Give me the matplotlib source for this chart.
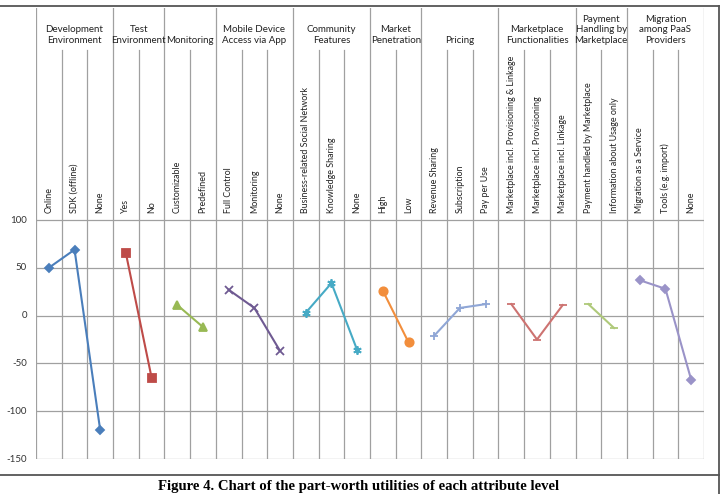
import matplotlib
matplotlib.use("Agg")
import matplotlib.pyplot as plt
from matplotlib.lines import Line2D

# Attribute groups, their levels and the part-worth utilities
groups = ["Development\nEnvironment", "Test\nEnvironment", "Monitoring",
          "Mobile Device\nAccess via App", "Community\nFeatures",
          "Market\nPenetration", "Pricing", "Marketplace\nFunctionalities",
          "Payment\nHandling by\nMarketplace", "Migration\namong PaaS\nProviders"]

levels = [
    ["Online", "SDK (offline)", "None"],
    ["Yes", "No"],
    ["Customizable", "Predefined"],
    ["Full Control", "Monitoring", "None"],
    ["Business-related Social Network", "Knowledge Sharing", "None"],
    ["High", "Low"],
    ["Revenue Sharing", "Subscription", "Pay per Use"],
    ["Marketplace incl. Provisioning & Linkage", "Marketplace incl. Provisioning",
     "Marketplace incl. Linkage"],
    ["Payment handled by Marketplace", "Information about Usage only"],
    ["Migration as a Service", "Tools (e.g. import)", "None"],
]

utilities = [
    [50, 69, -120],
    [65, -65],
    [11, -12],
    [27, 8, -37],
    [3, 34, -36],
    [26, -28],
    [-21, 8, 12],
    [12, -25, 11],
    [12, -13],
    [37, 28, -67],
]

colors = ["#4A7EBB", "#BE4B48", "#98B954", "#6F5A92", "#46AAC5", "#F28E3C",
          "#8FA6D6", "#CD7371", "#AFC97A", "#9A93C8"]
markers = ["D", "s", "^", "x", (6, 2, 0), "o", "+", "_", "_", "D"]
msizes = [4.5, 6, 6, 6, 6, 6, 6, 6, 6, 4]

yticks = [100, 50, 0, -50, -100, -150]

W, H = 726, 494
fig = plt.figure(figsize=(W / 100, H / 100), dpi=100)

# pixel geometry of the plot area
left_px, right_px, top_px, bot_px = 36, 704, 8, 459
y100_px = 220
ppu = (bot_px - y100_px) / 250.0  # pixels per unit
ytop = 100 + (y100_px - top_px) / ppu
yinner = 100 + (y100_px - 50) / ppu
ytitle = 100 + (y100_px - 45) / ppu
ylabel = 100 + (y100_px - 213) / ppu

ax = fig.add_axes([left_px / W, 1 - bot_px / H, (right_px - left_px) / W,
                   (bot_px - top_px) / H])
n = sum(len(l) for l in levels)
ax.set_xlim(0, n)
ax.set_ylim(-150, ytop)
ax.axis("off")

grid_col = "#A0A0A0"
for t in yticks:
    ax.plot([0, n], [t, t], color=grid_col, lw=0.9, zorder=1)
    ax.text(-0.35, t, str(t), ha="right", va="center", fontsize=7,
            family="Lato", color="#333333")

font = "Lato"
pos = 0
for g, (name, levs, vals) in enumerate(zip(groups, levels, utilities)):
    # group boundary
    ax.plot([pos, pos], [-150, ytop], color=grid_col, lw=0.9, zorder=1)
    xs = [pos + i + 0.5 for i in range(len(levs))]
    for i in range(1, len(levs)):
        ax.plot([pos + i, pos + i], [-150, yinner], color=grid_col, lw=0.9, zorder=1)
    for x, lab in zip(xs, levs):
        ax.text(x, ylabel, lab, rotation=90, ha="center", va="bottom",
                fontsize=6.4, family=font, color="#222222")
    ax.text(pos + len(levs) / 2, ytitle, name, ha="center", va="bottom",
            fontsize=7, family=font, color="#222222", linespacing=1.25)
    ax.plot(xs, vals, color=colors[g], lw=1.5, marker=markers[g],
            markersize=msizes[g], markeredgewidth=1.3, zorder=3)
    pos += len(levs)
ax.plot([n, n], [-150, ytop], color=grid_col, lw=0.9, zorder=1)

# frame around the figure box
frame_col = "#555555"
fig.add_artist(Line2D([0, 719 / W], [1 - 6 / H, 1 - 6 / H], color=frame_col, lw=1.3))
fig.add_artist(Line2D([719 / W, 719 / W], [0, 1 - 6 / H], color=frame_col, lw=1.3))
fig.add_artist(Line2D([0, 719 / W], [1 - 475 / H, 1 - 475 / H], color=frame_col, lw=1.3))

fig.text(359 / W, 1 - 492.5 / H,
         "Figure 4. Chart of the part-worth utilities of each attribute level",
         ha="center", va="bottom", fontsize=10.6, fontweight="bold",
         family="Liberation Serif")

fig.savefig("out.png", dpi=100)
